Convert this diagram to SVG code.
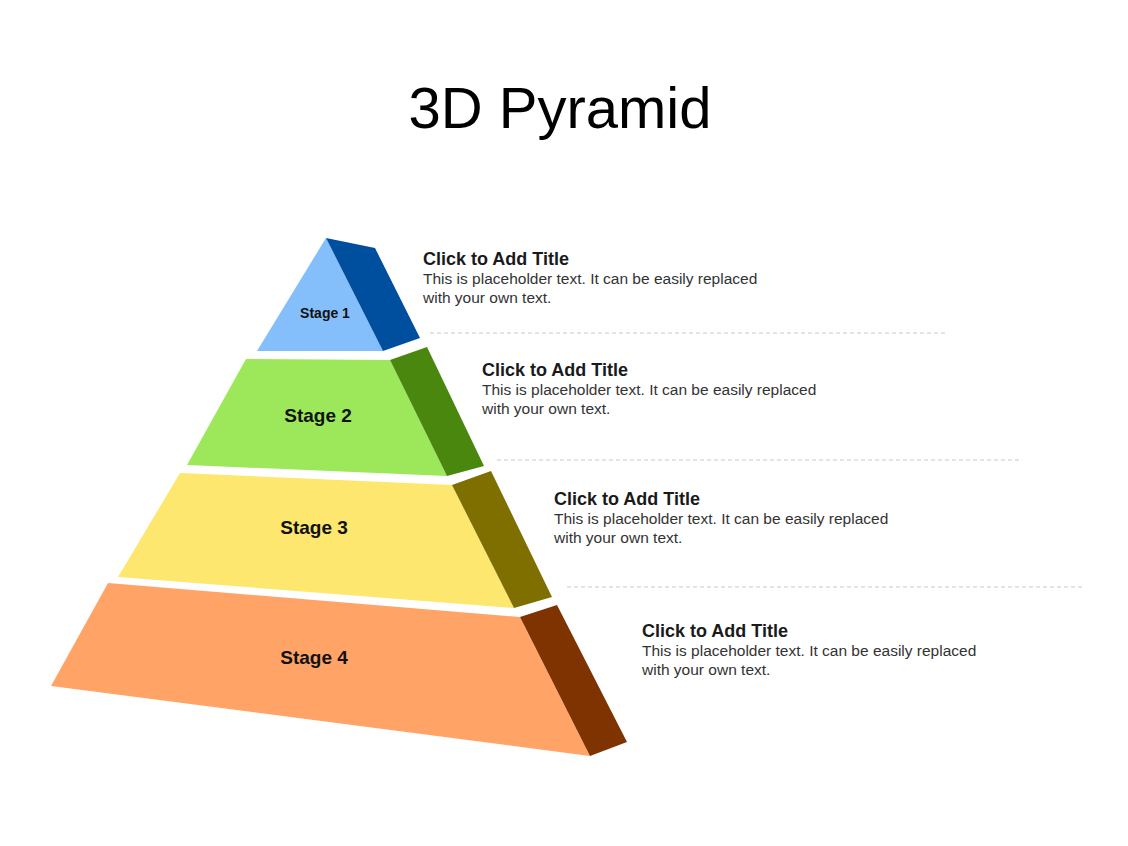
<svg xmlns="http://www.w3.org/2000/svg" width="1128" height="846" viewBox="0 0 1128 846">
<style>
.t{font-family:"Liberation Sans",Arial,sans-serif;fill:#000}
.h{font-size:18px;font-weight:bold;fill:#1a1a1a;font-family:"Liberation Sans",Arial,sans-serif}
.b{font-size:15.5px;fill:#333;font-family:"Liberation Sans",Arial,sans-serif}
.s{font-family:"Liberation Sans",Arial,sans-serif;font-weight:bold;text-anchor:middle;fill:#111}
.d{stroke:#c8c8c8;stroke-width:1;stroke-dasharray:4,3}
</style>
<rect width="1128" height="846" fill="#fff"/>
<text class="t" x="560" y="128" font-size="58" text-anchor="middle">3D Pyramid</text>
<g id="connectors">
<line class="d" x1="430" y1="333" x2="946" y2="333"/>
<line class="d" x1="497" y1="460" x2="1020" y2="460"/>
<line class="d" x1="567" y1="587" x2="1082" y2="587"/>
</g>
<g id="stage1">
<polygon points="326,238 383,351 257,351" fill="#85bffb"/>
<polygon points="326,238 375,248 420,338 383,351" fill="#004f9f"/>
<text class="s" x="325" y="318" font-size="14">Stage 1</text>
</g>
<g id="stage2">
<polygon points="246,359 390,360 447,476 187,465" fill="#9de85a"/>
<polygon points="390,360 427,347 484,466 447,476" fill="#4a870f"/>
<text class="s" x="318" y="422" font-size="19">Stage 2</text>
</g>
<g id="stage3">
<polygon points="180,473 452,485 514,608 118,577" fill="#fde76e"/>
<polygon points="452,485 491,471 552,597 514,608" fill="#7f6e00"/>
<text class="s" x="314" y="534" font-size="19">Stage 3</text>
</g>
<g id="stage4">
<polygon points="108,583 520,617 590,756 51,686" fill="#ffa466"/>
<polygon points="520,617 557,605 627,742 590,756" fill="#7f3300"/>
<text class="s" x="314" y="664" font-size="19">Stage 4</text>
</g>
<g id="text1"><text class="h" x="423" y="265">Click to Add Title</text><text class="b" x="423" y="284">This is placeholder text. It can be easily replaced</text><text class="b" x="423" y="303">with your own text.</text></g>
<g id="text2"><text class="h" x="482" y="376">Click to Add Title</text><text class="b" x="482" y="395">This is placeholder text. It can be easily replaced</text><text class="b" x="482" y="414">with your own text.</text></g>
<g id="text3"><text class="h" x="554" y="505">Click to Add Title</text><text class="b" x="554" y="524">This is placeholder text. It can be easily replaced</text><text class="b" x="554" y="543">with your own text.</text></g>
<g id="text4"><text class="h" x="642" y="637">Click to Add Title</text><text class="b" x="642" y="656">This is placeholder text. It can be easily replaced</text><text class="b" x="642" y="675">with your own text.</text></g>
</svg>
